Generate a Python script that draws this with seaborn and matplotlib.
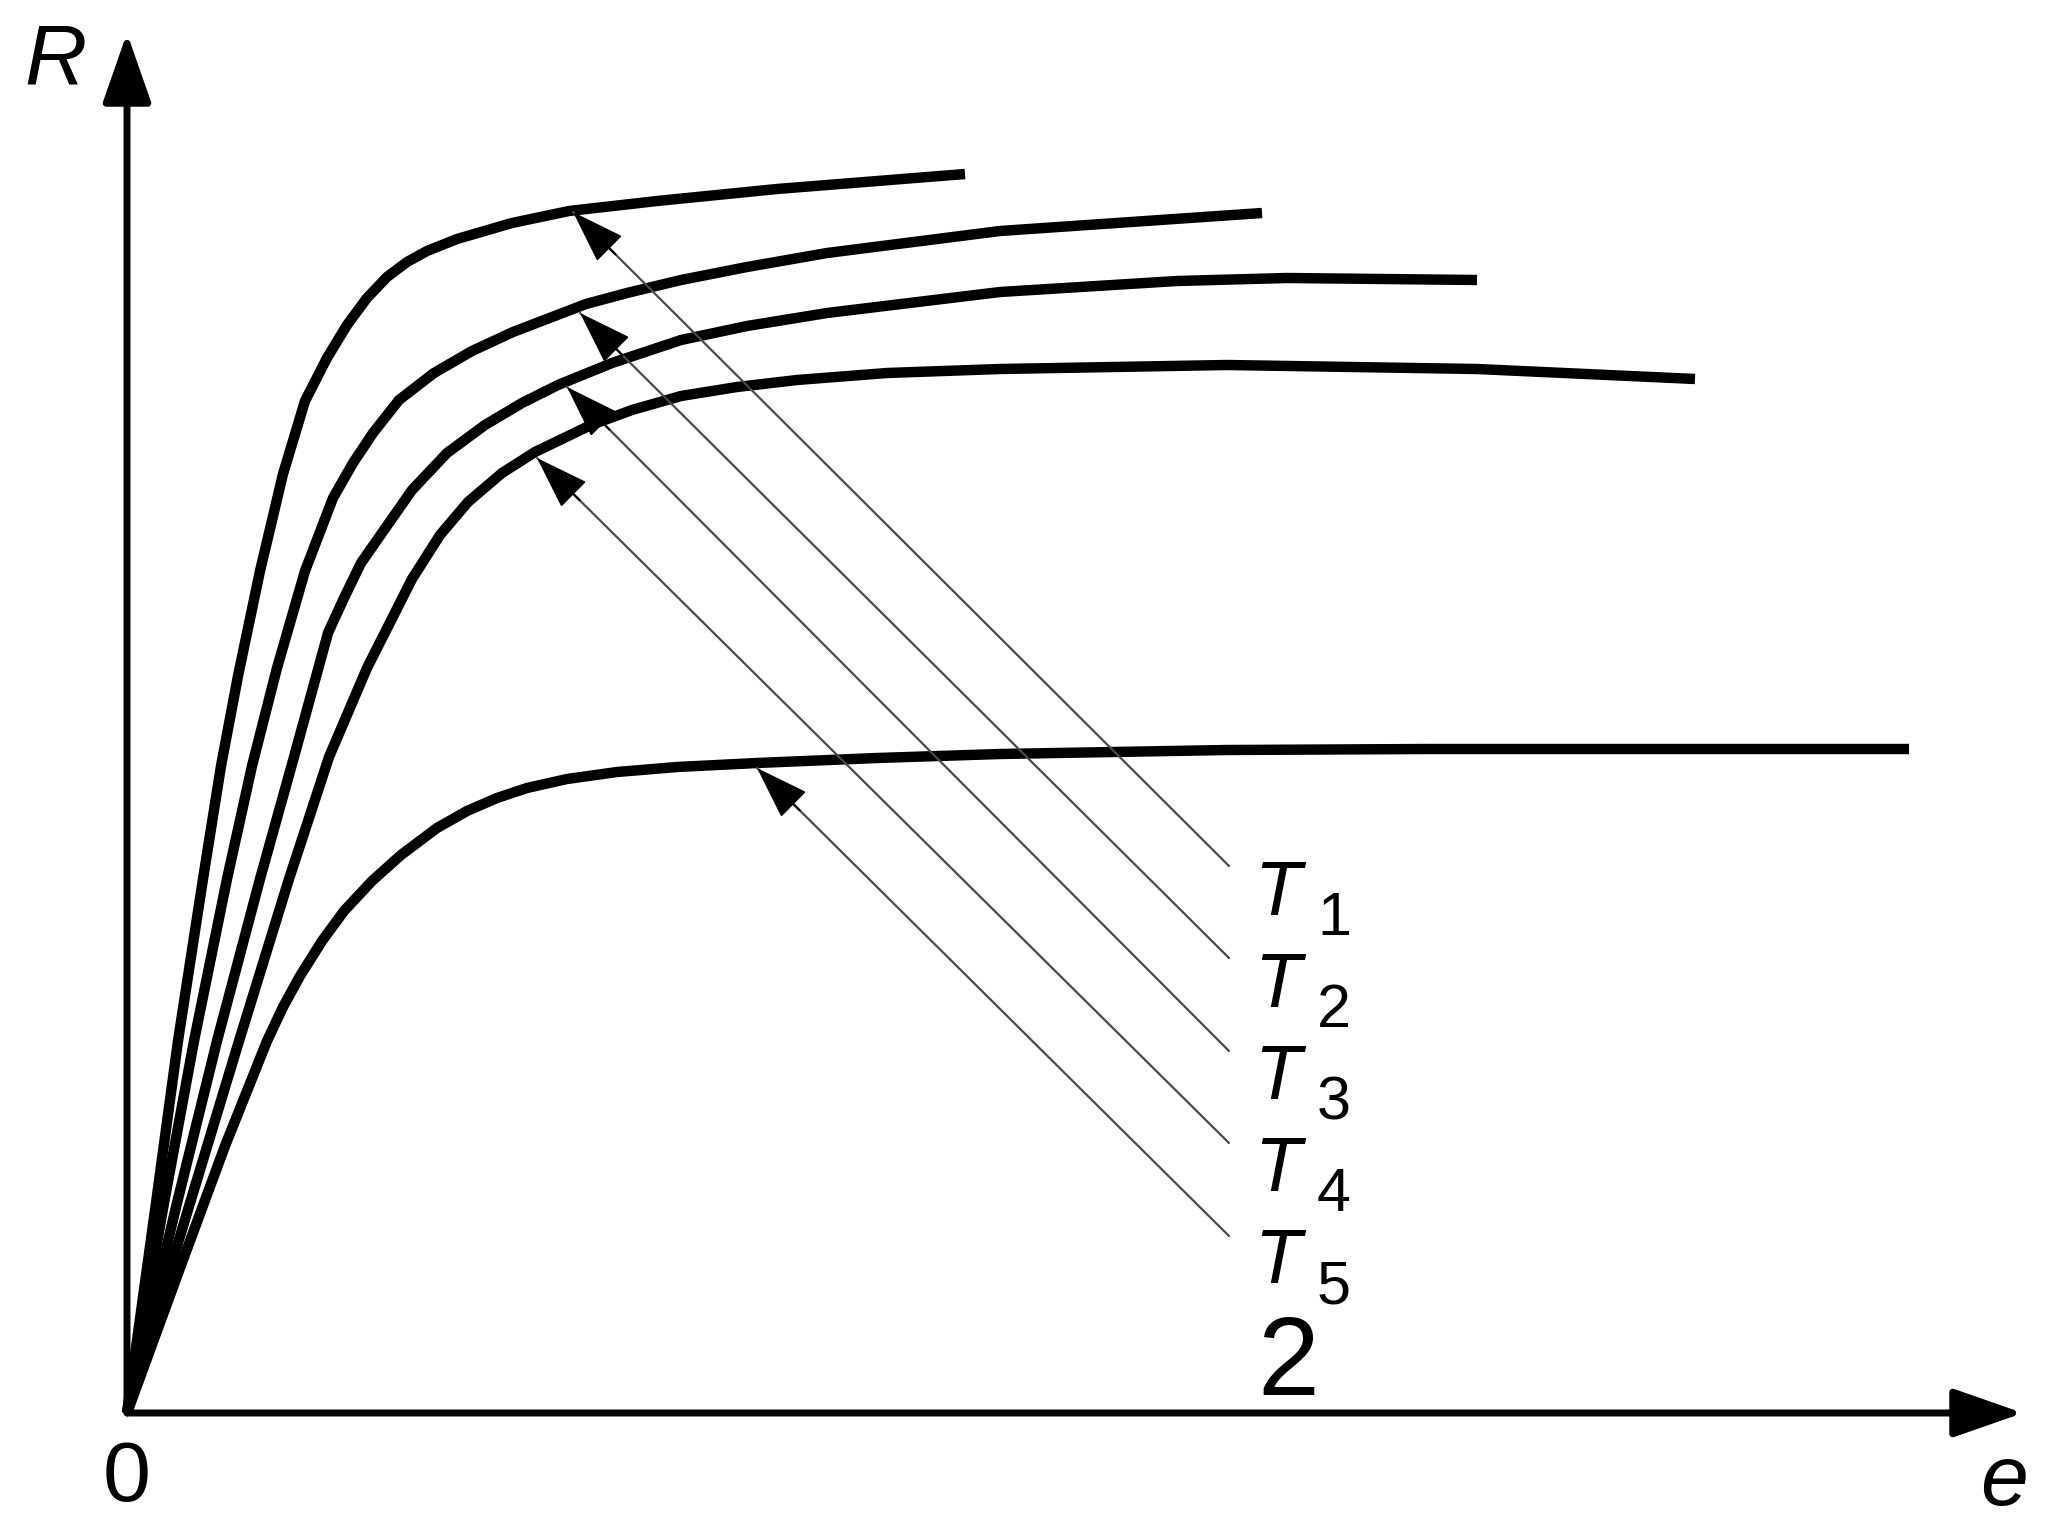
import numpy as np
import pandas as pd
import matplotlib.pyplot as plt
import seaborn as sns

sns.set_style('white')
plt.rcParams['font.family'] = ['Liberation Sans', 'DejaVu Sans']

# curve data (e, R)
labels = ['T1', 'T2', 'T3', 'T4', 'T5']

e_T1 = [0, 0.29, 0.51, 0.76, 0.94, 1.11, 1.33, 1.56, 1.78, 2.00, 2.20, 2.40,
        2.60, 2.80, 3.00, 3.30, 3.85, 4.42, 5.30, 6.50, 8.38]
R_T1 = [0, 2.10, 3.72, 5.34, 6.47, 7.37, 8.42, 9.39, 10.12, 10.55, 10.88, 11.15,
        11.36, 11.51, 11.62, 11.74, 11.90, 12.02, 12.12, 12.24, 12.39]

e_T2 = [0, 0.37, 0.67, 1.00, 1.25, 1.50, 1.78, 2.06, 2.26, 2.46, 2.72, 3.07,
        3.45, 3.86, 4.59, 5.00, 5.54, 6.20, 7.00, 8.73, 11.35]
R_T2 = [0, 2.10, 3.72, 5.34, 6.47, 7.45, 8.42, 9.15, 9.50, 9.80, 10.13, 10.40,
        10.62, 10.81, 11.09, 11.20, 11.33, 11.46, 11.60, 11.82, 12.00]

e_T3 = [0, 0.50, 0.90, 1.33, 1.67, 2.01, 2.17, 2.34, 2.85, 3.20, 3.58, 3.95,
        4.31, 4.85, 5.54, 6.20, 7.00, 8.73, 10.50, 11.60, 13.50]
R_T3 = [0, 2.10, 3.72, 5.34, 6.56, 7.80, 8.15, 8.50, 9.23, 9.60, 9.88, 10.10,
        10.28, 10.50, 10.73, 10.87, 11.00, 11.21, 11.32, 11.35, 11.33]

e_T4 = [0, 0.63, 1.12, 1.62, 2.02, 2.40, 2.85, 3.13, 3.41, 3.75, 4.08, 4.64,
        5.05, 5.54, 6.10, 6.70, 7.60, 8.73, 11.00, 13.50, 15.68]
R_T4 = [0, 2.10, 3.72, 5.34, 6.56, 7.45, 8.34, 8.78, 9.11, 9.40, 9.61, 9.88,
        10.03, 10.17, 10.26, 10.33, 10.40, 10.44, 10.48, 10.44, 10.34]

e_T5 = [0, 0.53, 0.98, 1.40, 1.56, 1.73, 1.95, 2.17, 2.45, 2.74, 3.10, 3.40,
        3.70, 4.00, 4.40, 4.90, 5.50, 6.30, 7.50, 8.73, 11.00, 13.00, 17.82]
R_T5 = [0, 1.45, 2.67, 3.72, 4.06, 4.37, 4.72, 5.02, 5.32, 5.58, 5.85, 6.02,
        6.15, 6.25, 6.34, 6.41, 6.46, 6.50, 6.55, 6.59, 6.63, 6.64, 6.64]

# leader arrows: tip on the curve, tail next to the label
tip_e = [4.46, 4.53, 4.40, 4.10, 6.30]
tip_R = [12.01, 11.00, 10.26, 9.55, 6.45]
tail_e = [11.02, 11.02, 11.02, 11.02, 11.02]
tail_R = [5.47, 4.55, 3.62, 2.70, 1.77]
subscripts = ['1', '2', '3', '4', '5']

curves = {'T1': (e_T1, R_T1), 'T2': (e_T2, R_T2), 'T3': (e_T3, R_T3),
          'T4': (e_T4, R_T4), 'T5': (e_T5, R_T5)}
rows = []
for name in labels:
    es, Rs = curves[name]
    for i in range(len(es)):
        rows.append({'curve': name, 'order': i, 'e': es[i], 'R': Rs[i]})
df = pd.DataFrame(rows)

fig = plt.figure(figsize=(20.72, 15.36), dpi=100)
ax = fig.add_axes([0, 0, 1, 1])

sns.lineplot(data=df, x='e', y='R', hue='curve', units='curve', estimator=None,
             sort=False, palette=['black'] * 5, linewidth=7.5, legend=False, ax=ax)
for line in ax.get_lines():
    line.set_solid_joinstyle('round')
    line.set_solid_capstyle('butt')

# axes with arrows
ax_arrow = dict(arrowstyle='-|>,head_length=4.3,head_width=1.5', color='black',
                lw=5, shrinkA=0, shrinkB=0)
ax.annotate('', xy=(18.96, 0), xytext=(0, 0), arrowprops=ax_arrow)
ax.annotate('', xy=(0, 13.80), xytext=(0, 0), arrowprops=ax_arrow)

ax.text(-0.72, 13.52, 'R', fontsize=62, fontstyle='italic', color='black',
        ha='center', va='center')
ax.text(0, -0.66, '0', fontsize=62, color='black', ha='center', va='center')
ax.text(18.77, -0.70, 'e', fontsize=62, fontstyle='italic', color='black',
        ha='center', va='center')

# leader lines (gray) with black heads, and labels
for i in range(5):
    ax.annotate('', xy=(tip_e[i], tip_R[i]), xytext=(tail_e[i], tail_R[i]),
                arrowprops=dict(arrowstyle='-', color='#4a4a4a', lw=1.6,
                                shrinkA=0, shrinkB=0))
    d = np.array([tail_e[i] - tip_e[i], tail_R[i] - tip_R[i]])
    d = d / np.hypot(d[0], d[1])
    ax.annotate('', xy=(tip_e[i], tip_R[i]),
                xytext=(tip_e[i] + 0.6 * d[0], tip_R[i] + 0.6 * d[1]),
                arrowprops=dict(arrowstyle='-|>,head_length=3.4,head_width=1.15',
                                color='black', lw=1.5, shrinkA=0, shrinkB=0))
    ax.text(11.27, 4.98 - 0.92 * i, 'T', fontsize=55, fontstyle='italic',
            color='black', ha='left', va='baseline')
    ax.text(11.9, 4.78 - 0.92 * i, subscripts[i], fontsize=44, color='black',
            ha='left', va='baseline')

ax.text(11.30, 0.18, '2', fontsize=80, color='black', ha='left', va='baseline')

ax.set_xlim(-1.27, 19.45)
ax.set_ylim(-1.23, 14.13)
ax.axis('off')

fig.savefig('out.png', dpi=100)
